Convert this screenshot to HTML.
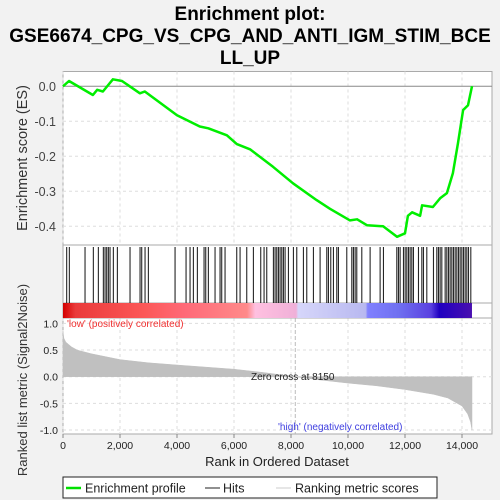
<!DOCTYPE html>
<html><head><meta charset="utf-8"><style>
html,body{margin:0;padding:0;background:#f2f2f2;}
svg{display:block;font-family:"Liberation Sans","DejaVu Sans",sans-serif;}
</style></head><body>
<svg id="chart" width="500" height="500" viewBox="0 0 500 500">
<defs>
<linearGradient id="cb" x1="0" x2="1" y1="0" y2="0">
<stop offset="0" stop-color="#d40000"/><stop offset="0.03" stop-color="#ea3a3a"/><stop offset="0.2" stop-color="#fc5858"/><stop offset="0.3" stop-color="#ff6a78"/><stop offset="0.45" stop-color="#ff8a8a"/><stop offset="0.47" stop-color="#ffc0e0"/><stop offset="0.57" stop-color="#f0b0d8"/><stop offset="0.575" stop-color="#d6d6fa"/><stop offset="0.74" stop-color="#b8b8f0"/><stop offset="0.745" stop-color="#8080ff"/><stop offset="0.82" stop-color="#7070f0"/><stop offset="0.9" stop-color="#5a40e0"/><stop offset="0.92" stop-color="#2000c0"/><stop offset="1" stop-color="#4a10b0"/>
</linearGradient>
</defs>
<text x="250" y="20" text-anchor="middle" font-size="19" font-weight="bold">Enrichment plot:</text>
<text x="250" y="42" text-anchor="middle" font-size="19" font-weight="bold">GSE6674_CPG_VS_CPG_AND_ANTI_IGM_STIM_BCE</text>
<text x="250" y="64" text-anchor="middle" font-size="19" font-weight="bold">LL_UP</text>
<rect x="63" y="71.5" width="429" height="362.5" fill="#fff" stroke="#aaa"/>
<g id="grid"></g>
<g id="es"></g>
<line x1="63" x2="492" y1="245" y2="245" stroke="#aaa"/>
<line x1="63" x2="492" y1="303" y2="303" stroke="#aaa"/>
<line x1="63" x2="492" y1="318" y2="318" stroke="#aaa"/>
<g id="hits"></g>
<g id="metric"></g>
<text x="67" y="327" font-size="10" fill="#f03030">'low' (positively correlated)</text>
<text x="278" y="430" font-size="10" fill="#4040e0">'high' (negatively correlated)</text>
<text x="251" y="380" font-size="10" fill="#222">Zero cross at 8150</text>
<g id="axes"></g>
<text transform="translate(27,158) rotate(-90)" text-anchor="middle" font-size="14.5" fill="#333">Enrichment score (ES)</text>
<text transform="translate(27,380) rotate(-90)" text-anchor="middle" font-size="13" fill="#333">Ranked list metric (Signal2Noise)</text>
<text x="277" y="466" text-anchor="middle" font-size="13" fill="#222">Rank in Ordered Dataset</text>
<g>
<rect x="63" y="477" width="374" height="21" fill="#fff" stroke="#222"/>
<line x1="66" x2="81" y1="488" y2="488" stroke="#00e000" stroke-width="2.5"/>
<text x="85" y="492.5" font-size="12.5" fill="#222">Enrichment profile</text>
<line x1="205" x2="220" y1="488" y2="488" stroke="#222"/>
<text x="223" y="492.5" font-size="12.5" fill="#222">Hits</text>
<line x1="276" x2="291" y1="488" y2="488" stroke="#ccc"/>
<text x="295" y="492.5" font-size="12.5" fill="#222">Ranking metric scores</text>
</g>
</svg>
<script>
const esRanks=[0,210,1050,1200,1400,1750,2070,2700,2870,4000,4800,5100,5750,6100,6560,7370,8070,8900,9370,10070,10320,10670,11230,11720,12000,12100,12250,12530,12600,12980,13230,13470,13680,13860,14040,14210,14350];
const esValues=[0,0.015,-0.025,-0.01,-0.015,0.02,0.015,-0.02,-0.015,-0.083,-0.115,-0.12,-0.14,-0.165,-0.18,-0.23,-0.277,-0.325,-0.35,-0.383,-0.38,-0.397,-0.4,-0.43,-0.42,-0.37,-0.36,-0.37,-0.34,-0.345,-0.32,-0.305,-0.248,-0.162,-0.068,-0.054,0];
const hitRanks=[129,223,773,1065,1241,1416,1475,1533,1592,1650,1767,1908,2352,2703,2762,2879,2996,3932,4318,4458,4575,4715,4949,5008,5101,5335,5511,5569,5686,6096,6213,6447,6681,6938,7055,7149,7383,7441,7500,7559,7617,7676,7734,7793,7910,8085,8202,8436,8553,8787,9021,9255,9314,9395,9489,9606,9665,9957,10133,10191,10250,10308,10484,10776,11127,11244,11712,11771,11829,11946,12005,12063,12122,12180,12239,12297,12473,12590,12648,12765,12999,13116,13175,13233,13292,13409,13467,13526,13584,13643,13701,13760,13818,13877,13935,13994,14052,14111,14169,14228,14309];
const metricRanks=[0,30,100,300,500,1000,2000,3000,4000,5000,6000,7000,8150,9000,10000,11000,12000,13000,13500,14000,14200,14300,14350];
const metricValues=[0.85,0.72,0.65,0.56,0.5,0.43,0.32,0.26,0.22,0.18,0.14,0.08,0,-0.06,-0.12,-0.17,-0.24,-0.33,-0.4,-0.55,-0.7,-0.85,-1.0];
const xTicks=[0,2000,4000,6000,8000,10000,12000,14000];
const esTicks=[0,-0.1,-0.2,-0.3,-0.4];
const mTicks=[1.0,0.5,0.0,-0.5,-1.0];
const NS='http://www.w3.org/2000/svg';
const X=r=>63+r*57/2000;
const YE=v=>86.3-v*350;
const YM=v=>376.7-v*53.3;
function mk(tag,attrs,parent){const e=document.createElementNS(NS,tag);for(const k in attrs)e.setAttribute(k,attrs[k]);parent.appendChild(e);return e;}
const grid=document.getElementById('grid'),axes=document.getElementById('axes');
xTicks.forEach(t=>{
  [[71.5,245],[318,434]].forEach(([a,b])=>{mk('line',{x1:X(t),x2:X(t),y1:a,y2:b,stroke:'#ddd','stroke-dasharray':'3,3'},grid);});
  const tk=mk('line',{x1:X(t),x2:X(t),y1:434,y2:438,stroke:'#888'},axes);
  
  
  const tx=mk('text',{x:X(t),y:449,'text-anchor':'middle','font-size':'10.5',fill:'#222'},axes);
  tx.textContent=t===0?'0':t.toLocaleString('en-US');
  
  
});
esTicks.forEach(t=>{
  if(t!==0)mk('line',{x1:63,x2:492,y1:YE(t),y2:YE(t),stroke:'#ddd','stroke-dasharray':'3,3'},grid);
  const tx=mk('text',{x:56,y:YE(t)+4.5,'text-anchor':'end','font-size':'12.5',fill:'#444'},axes);
  tx.textContent=t.toFixed(1);
  
  
});
mTicks.forEach(t=>{
  mk('line',{x1:63,x2:492,y1:YM(t),y2:YM(t),stroke:'#ddd','stroke-dasharray':'3,3'},grid);
  const tx=mk('text',{x:58,y:YM(t)+4,'text-anchor':'end','font-size':'10.5',fill:'#222'},axes);
  tx.textContent=t.toFixed(1);
  
  
});
const zl=mk('line',{x1:X(8150),x2:X(8150),y1:318,y2:434,stroke:'#bbb','stroke-dasharray':'4,2'},grid);


const es=document.getElementById('es');
mk('line',{x1:63,x2:492,y1:YE(0),y2:YE(0),stroke:'#888'},es);
const pts=esRanks.map((r,i)=>X(r).toFixed(1)+','+YE(esValues[i]).toFixed(1)).join(' ');
const pl=mk('polyline',{points:pts,fill:'none',stroke:'#00ee00','stroke-width':'2.5','stroke-linejoin':'round'},es);


const hits=document.getElementById('hits');
hitRanks.forEach(r=>{
  const h=mk('line',{x1:X(r),x2:X(r),y1:247,y2:303,stroke:'#000','stroke-width':'1.1','stroke-opacity':'0.85'},hits);
  
  
});
const cb=mk('rect',{x:63,y:303,width:X(14350)-63,height:15,fill:'url(#cb)'},hits);


const met=document.getElementById('metric');
let d='M'+X(0)+','+YM(0);
metricRanks.forEach((r,i)=>{d+=' L'+X(r).toFixed(1)+','+YM(metricValues[i]).toFixed(1);});
d+=' L'+X(metricRanks[metricRanks.length-1]).toFixed(1)+','+YM(0)+' Z';
const ar=mk('path',{d:d,fill:'#c0c0c0',stroke:'#c0c0c0','stroke-width':'0.5'},met);


</script>
</body></html>
